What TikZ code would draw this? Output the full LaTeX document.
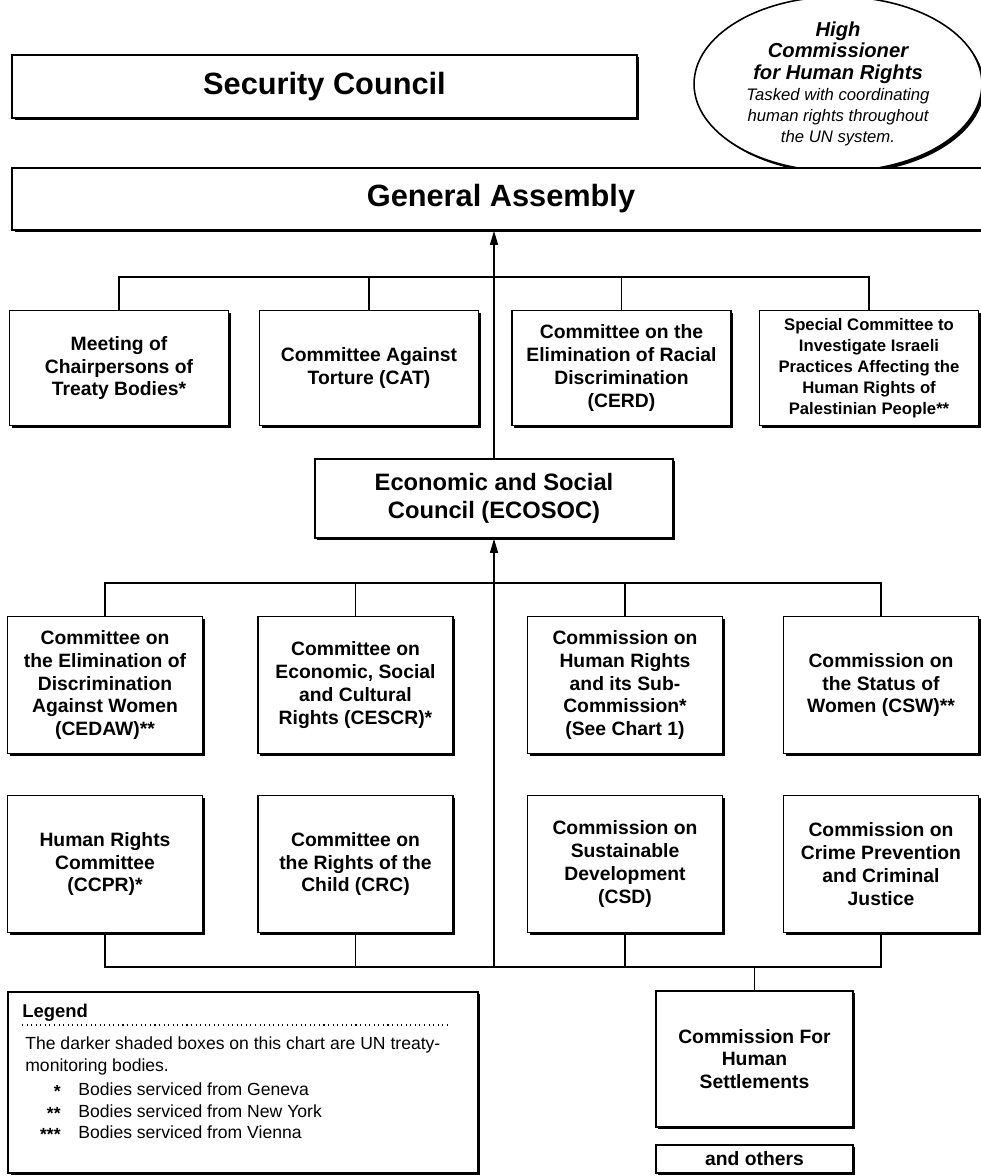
\documentclass[tikz,border=0pt]{standalone}
\usepackage{fontspec}
\setmainfont{Liberation Sans}
\usetikzlibrary{arrows.meta,shapes.geometric,shadows}

\newcommand\hctitle{\bfseries\itshape\fontsize{11.5}{13}\selectfont}
\newcommand\hcnote{\mdseries\itshape\fontsize{9.5}{12.5}\selectfont}

\tikzset{
  unbox/.style={draw, line width=0.9pt, fill=white, align=center, inner sep=2pt,
    font=\bfseries\fontsize{11}{13}\selectfont,
    drop shadow={shadow xshift=1.4pt, shadow yshift=-1.4pt, fill=black, opacity=1}},
  bigbox/.style={unbox, font=\bfseries\fontsize{17.5}{20}\selectfont},
  toprow/.style={unbox, minimum width=4.38cm, minimum height=2.3cm},
  lowrow/.style={unbox, minimum width=3.9cm, minimum height=2.74cm},
  link/.style={line width=0.9pt},
  uparrow/.style={line width=0.9pt, -{Triangle[length=8pt,width=4.5pt]}},
  legtext/.style={anchor=base west, font=\fontsize{10}{12.5}\selectfont, inner sep=0pt},
}

\begin{document}
\begin{tikzpicture}[x=0.02cm, y=-0.02cm]
  \useasboundingbox (0,0) rectangle (980,1176);

  % top level
  \node[bigbox, minimum width=12.5cm, minimum height=1.26cm] (sc) at (324.5,86.5) {Security Council};
  \node[ellipse, draw, line width=0.9pt, fill=white, align=center, inner sep=0pt,
        minimum width=5.76cm, minimum height=3.12cm,
        drop shadow={shadow xshift=1.4pt, shadow yshift=-1.4pt, fill=black, opacity=1}] (hc) at (838,84)
        {\hctitle High\\\hctitle Commissioner\\\hctitle for Human Rights\\
         \hcnote Tasked with coordinating\\\hcnote human rights throughout\\\hcnote the UN system.};
  \node[bigbox, minimum width=19.56cm, minimum height=1.24cm] (ga) at (501,199) {General Assembly};

  % bodies reporting to the General Assembly
  \node[toprow] (t1) at (119,368) {Meeting of\\Chairpersons of\\Treaty Bodies*};
  \node[toprow] (t2) at (369,368) {Committee Against\\Torture (CAT)};
  \node[toprow] (t3) at (621.5,368) {Committee on the\\Elimination of Racial\\Discrimination\\(CERD)};
  \node[toprow, font=\bfseries\fontsize{9.5}{12}\selectfont] (t4) at (869,368)
        {Special Committee to\\Investigate Israeli\\Practices Affecting the\\Human Rights of\\Palestinian People**};

  \node[unbox, minimum width=7.16cm, minimum height=1.58cm, font=\bfseries\fontsize{13.5}{16}\selectfont] (ecosoc) at (494,498.5)
        {Economic and Social\\Council (ECOSOC)};

  % bodies reporting to ECOSOC
  \node[lowrow] (c1) at (105,685) {Committee on\\the Elimination of\\Discrimination\\Against Women\\(CEDAW)**};
  \node[lowrow] (c2) at (355.5,685) {Committee on\\Economic, Social\\and Cultural\\Rights (CESCR)*};
  \node[lowrow] (c3) at (625,685) {Commission on\\Human Rights\\and its Sub-\\Commission*\\(See Chart 1)};
  \node[lowrow] (c4) at (881,685) {Commission on\\the Status of\\Women (CSW)**};

  \node[lowrow] (d1) at (105,864) {Human Rights\\Committee\\(CCPR)*};
  \node[lowrow] (d2) at (355.5,864) {Committee on\\the Rights of the\\Child (CRC)};
  \node[lowrow] (d3) at (625,864) {Commission on\\Sustainable\\Development\\(CSD)};
  \node[lowrow] (d4) at (881,864) {Commission on\\Crime Prevention\\and Criminal\\Justice};

  \node[unbox, minimum width=3.94cm, minimum height=2.72cm] (hs) at (754.5,1059) {Commission For\\Human\\Settlements};
  \node[unbox, minimum width=3.94cm, minimum height=0.56cm, inner sep=0pt] (others) at (754.5,1159) {and others};

  % bus lines
  \coordinate (bus1) at (494,277);
  \coordinate (bus2) at (494,583);
  \coordinate (bus3) at (494,967);

  \draw[link] (t1.north) -- (t1.north |- bus1) -- (t4.north |- bus1) -- (t4.north);
  \foreach \n in {t2,t3} \draw[link] (\n.north) -- (\n.north |- bus1);
  \draw[uparrow] (ecosoc.north) -- (ecosoc.north |- ga.south);

  \draw[link] (c1.north) -- (c1.north |- bus2) -- (c4.north |- bus2) -- (c4.north);
  \foreach \n in {c2,c3} \draw[link] (\n.north) -- (\n.north |- bus2);

  \draw[link] (d1.south) -- (d1.south |- bus3) -- (d4.south |- bus3) -- (d4.south);
  \foreach \n in {d2,d3} \draw[link] (\n.south) -- (\n.south |- bus3);
  \draw[link] (hs.north) -- (hs.north |- bus3);
  \draw[uparrow] (bus3) -- (ecosoc.south);

  % legend
  \node[unbox, minimum width=9.4cm, minimum height=3.62cm] (legend) at (243,1082.5) {};
  \node[legtext, font=\bfseries\fontsize{10.5}{12}\selectfont] (legtitle) at (22,1017) {Legend};
  \draw[dotted, line width=0.6pt] (22,1025) -- (447,1025);
  \node[legtext] (legline1) at (25,1049) {The darker shaded boxes on this chart are UN treaty-};
  \node[legtext] (legline2) at (25,1071) {monitoring bodies.};
  \foreach \s/\t [count=\i] in {*/Geneva, **/New York, ***/Vienna} {
    \node[legtext, anchor=base east, font=\bfseries\fontsize{10}{12.5}\selectfont] (star\i) at (61,{1076+21.5*\i}) {\s};
    \node[legtext] (item\i) at (78,{1074+21.5*\i}) {Bodies serviced from \t};
  }
\end{tikzpicture}
\end{document}
